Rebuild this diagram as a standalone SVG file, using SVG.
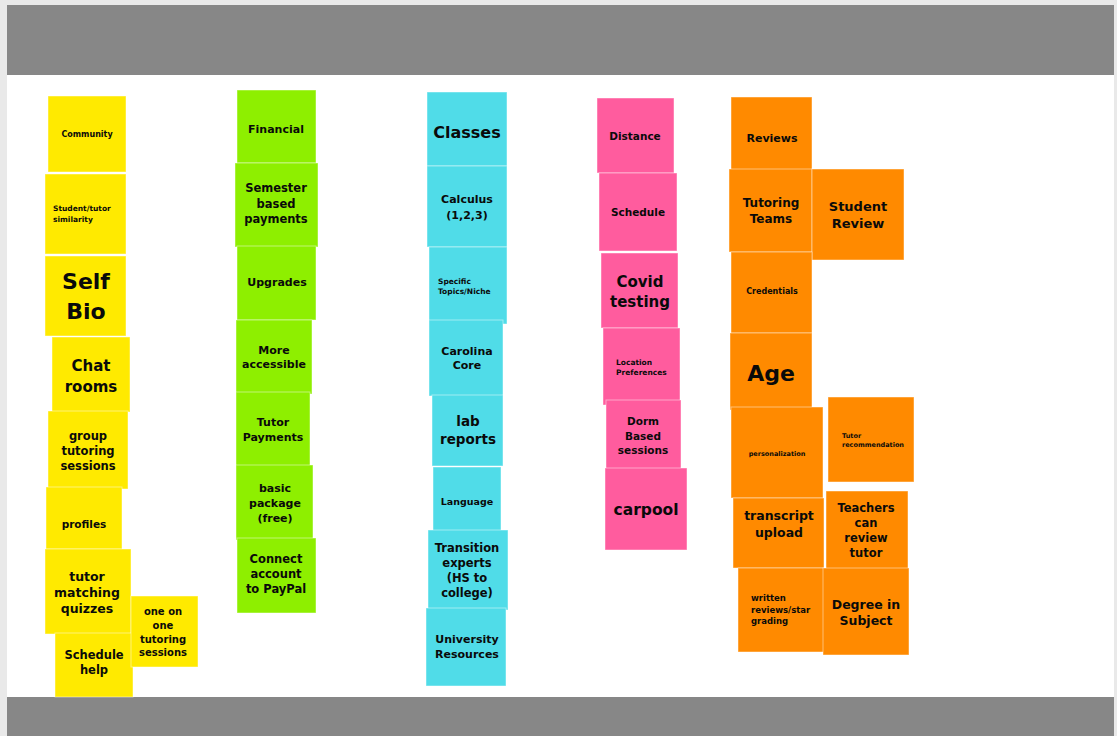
<svg xmlns="http://www.w3.org/2000/svg" width="1117" height="736" viewBox="0 0 1117 736">
<style>
text{font-family:"DejaVu Sans","Liberation Sans",sans-serif;font-weight:bold;fill:#0a0a0a;text-anchor:middle}
.l{text-anchor:start}
rect.y,rect.g,rect.c,rect.p,rect.o{stroke:#ffffff;stroke-opacity:0.45;stroke-width:1}
.y{fill:#FFEA00}.g{fill:#8EEF00}.c{fill:#50DCE8}.p{fill:#FF5C9E}.o{fill:#FF8A00}
</style>
<rect x="0" y="0" width="1117" height="736" fill="#e9e9e9"/>
<rect x="7" y="5" width="1107" height="70" fill="#878787"/>
<rect x="7" y="75" width="1107" height="622" fill="#ffffff"/>
<rect x="7" y="697" width="1107" height="39" fill="#878787"/>

<g id="yellow">
<g id="n-community"><rect class="y" x="48" y="96" width="78" height="76"/><text x="87" y="137" font-size="8">Community</text></g>
<g id="n-similarity"><rect class="y" x="45" y="174" width="81" height="80"/><text class="l" x="53" y="211" font-size="7.5">Student/tutor</text><text class="l" x="53" y="222" font-size="7.5">similarity</text></g>
<g id="n-selfbio"><rect class="y" x="45" y="256" width="81" height="80"/><text x="86" y="289" font-size="22">Self</text><text x="86" y="319" font-size="22">Bio</text></g>
<g id="n-chat"><rect class="y" x="52" y="337" width="78" height="75"/><text x="91" y="371" font-size="15">Chat</text><text x="91" y="392" font-size="15">rooms</text></g>
<g id="n-group"><rect class="y" x="48" y="411" width="80" height="78"/><text x="88" y="440" font-size="11.5">group</text><text x="88" y="455" font-size="11.5">tutoring</text><text x="88" y="470" font-size="11.5">sessions</text></g>
<g id="n-profiles"><rect class="y" x="46" y="487" width="76" height="62"/><text x="84" y="528" font-size="10.5">profiles</text></g>
<g id="n-quizzes"><rect class="y" x="45" y="549" width="86" height="85"/><text x="87" y="581" font-size="12.5">tutor</text><text x="87" y="597" font-size="12.5">matching</text><text x="87" y="613" font-size="12.5">quizzes</text></g>
<g id="n-schedhelp"><rect class="y" x="55" y="633" width="78" height="64"/><text x="94" y="659" font-size="11.5">Schedule</text><text x="94" y="674" font-size="11.5">help</text></g>
<g id="n-oneonone"><rect class="y" x="131" y="596" width="67" height="71"/><text x="163" y="615" font-size="10">one on</text><text x="163" y="629" font-size="10">one</text><text x="163" y="643" font-size="10">tutoring</text><text x="163" y="656" font-size="10">sessions</text></g>
</g>

<g id="green">
<g id="n-financial"><rect class="g" x="237" y="90" width="79" height="73"/><text x="276" y="133" font-size="11">Financial</text></g>
<g id="n-semester"><rect class="g" x="235" y="163" width="83" height="84"/><text x="276" y="192" font-size="11.5">Semester</text><text x="276" y="208" font-size="11.5">based</text><text x="276" y="223" font-size="11.5">payments</text></g>
<g id="n-upgrades"><rect class="g" x="237" y="246" width="79" height="74"/><text x="277" y="286" font-size="11">Upgrades</text></g>
<g id="n-accessible"><rect class="g" x="236" y="320" width="76" height="74"/><text x="274" y="354" font-size="11">More</text><text x="274" y="368" font-size="11">accessible</text></g>
<g id="n-tutorpay"><rect class="g" x="236" y="392" width="74" height="75"/><text x="273" y="426" font-size="11">Tutor</text><text x="273" y="441" font-size="11">Payments</text></g>
<g id="n-basic"><rect class="g" x="236" y="465" width="77" height="75"/><text x="275" y="492" font-size="11">basic</text><text x="275" y="507" font-size="11">package</text><text x="275" y="522" font-size="11">(free)</text></g>
<g id="n-paypal"><rect class="g" x="237" y="538" width="79" height="75"/><text x="276" y="563" font-size="11.5">Connect</text><text x="276" y="578" font-size="11.5">account</text><text x="276" y="593" font-size="11.5">to PayPal</text></g>
</g>

<g id="cyan">
<g id="n-classes"><rect class="c" x="427" y="92" width="80" height="74"/><text x="467" y="138" font-size="16">Classes</text></g>
<g id="n-calculus"><rect class="c" x="427" y="166" width="80" height="81"/><text x="467" y="203" font-size="11">Calculus</text><text x="467" y="219" font-size="11">(1,2,3)</text></g>
<g id="n-specific"><rect class="c" x="429" y="247" width="78" height="77"/><text class="l" x="438" y="284" font-size="7.5">Specific</text><text class="l" x="438" y="294" font-size="7.5">Topics/Niche</text></g>
<g id="n-carolina"><rect class="c" x="429" y="320" width="74" height="76"/><text x="467" y="355" font-size="11">Carolina</text><text x="467" y="369" font-size="11">Core</text></g>
<g id="n-lab"><rect class="c" x="432" y="395" width="71" height="71"/><text x="468" y="426" font-size="13.5">lab</text><text x="468" y="444" font-size="13.5">reports</text></g>
<g id="n-language"><rect class="c" x="433" y="467" width="68" height="64"/><text x="467" y="504.5" font-size="9.5">Language</text></g>
<g id="n-transition"><rect class="c" x="428" y="530" width="80" height="80"/><text x="467" y="552" font-size="11.5">Transition</text><text x="467" y="567" font-size="11.5">experts</text><text x="467" y="582" font-size="11.5">(HS to</text><text x="467" y="597" font-size="11.5">college)</text></g>
<g id="n-university"><rect class="c" x="426" y="608" width="80" height="78"/><text x="467" y="643" font-size="11">University</text><text x="467" y="658" font-size="11">Resources</text></g>
</g>

<g id="pink">
<g id="n-distance"><rect class="p" x="597" y="98" width="77" height="75"/><text x="635" y="140" font-size="10.5">Distance</text></g>
<g id="n-schedule"><rect class="p" x="599" y="173" width="78" height="78"/><text x="638" y="216" font-size="10.5">Schedule</text></g>
<g id="n-covid"><rect class="p" x="601" y="253" width="77" height="75"/><text x="640" y="287" font-size="15">Covid</text><text x="640" y="307" font-size="15">testing</text></g>
<g id="n-location"><rect class="p" x="603" y="328" width="77" height="77"/><text class="l" x="616" y="365" font-size="7.5">Location</text><text class="l" x="616" y="375" font-size="7.5">Preferences</text></g>
<g id="n-dorm"><rect class="p" x="606" y="400" width="75" height="70"/><text x="643" y="425" font-size="10.5">Dorm</text><text x="643" y="440" font-size="10.5">Based</text><text x="643" y="454" font-size="10.5">sessions</text></g>
<g id="n-carpool"><rect class="p" x="605" y="468" width="82" height="82"/><text x="646" y="515" font-size="15.5">carpool</text></g>
</g>

<g id="orange">
<g id="n-reviews"><rect class="o" x="731" y="97" width="81" height="73"/><text x="772" y="142" font-size="11">Reviews</text></g>
<g id="n-teams"><rect class="o" x="729" y="169" width="83" height="83"/><text x="771" y="207" font-size="12">Tutoring</text><text x="771" y="223" font-size="12">Teams</text></g>
<g id="n-studentreview"><rect class="o" x="812" y="169" width="92" height="91"/><text x="858" y="211" font-size="13">Student</text><text x="858" y="228" font-size="13">Review</text></g>
<g id="n-credentials"><rect class="o" x="731" y="252" width="81" height="81"/><text x="772" y="294" font-size="8">Credentials</text></g>
<g id="n-age"><rect class="o" x="730" y="333" width="82" height="77"/><text x="771" y="381" font-size="22">Age</text></g>
<g id="n-personal"><rect class="o" x="731" y="407" width="92" height="91"/><text x="777" y="455.5" font-size="6.5">personalization</text></g>
<g id="n-tutorrec"><rect class="o" x="828" y="397" width="86" height="85"/><text class="l" x="842" y="437.5" font-size="6.5">Tutor</text><text class="l" x="842" y="446.5" font-size="6.5">recommendation</text></g>
<g id="n-transcript"><rect class="o" x="733" y="498" width="91" height="70"/><text x="779" y="520" font-size="12.5">transcript</text><text x="779" y="537" font-size="12.5">upload</text></g>
<g id="n-teachers"><rect class="o" x="826" y="491" width="82" height="78"/><text x="866" y="512" font-size="11.5">Teachers</text><text x="866" y="527" font-size="11.5">can</text><text x="866" y="542" font-size="11.5">review</text><text x="866" y="557" font-size="11.5">tutor</text></g>
<g id="n-written"><rect class="o" x="738" y="568" width="86" height="84"/><text class="l" x="751" y="601" font-size="8.5">written</text><text class="l" x="751" y="613" font-size="8.5">reviews/star</text><text class="l" x="751" y="624" font-size="8.5">grading</text></g>
<g id="n-degree"><rect class="o" x="823" y="568" width="86" height="87"/><text x="866" y="609" font-size="12.5">Degree in</text><text x="866" y="625" font-size="12.5">Subject</text></g>
</g>
<g id="connectors"/>
</svg>
